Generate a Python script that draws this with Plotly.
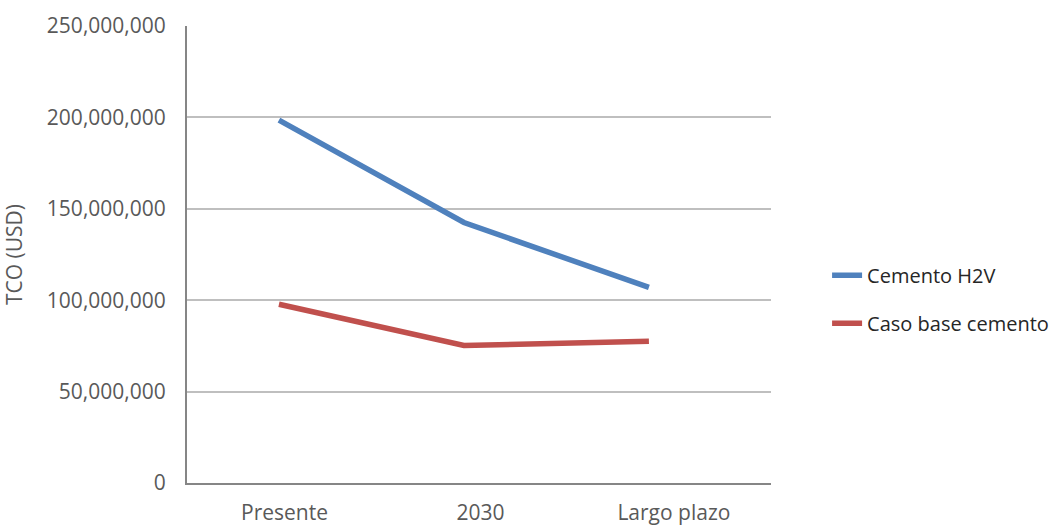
import plotly.graph_objects as go

categories = ["Presente", "2030", "Largo plazo"]
h2v_values = [198.5e6, 142.5e6, 107.0e6]
base_values = [97.8e6, 75.2e6, 77.6e6]
series_names = ["Cemento H2V", "Caso base cemento"]
y_ticks = [0, 50e6, 100e6, 150e6, 200e6, 250e6]

x_pos = list(range(len(categories)))
label_shift = [0.03, 0.09, 0.135]  # tick label offset relative to point positions
tick_pos = [p + s for p, s in zip(x_pos, label_shift)]

fig = go.Figure()
fig.add_trace(go.Scatter(x=x_pos, y=h2v_values, mode="lines", name=series_names[0],
                         line=dict(color="#4F81BD", width=5.5), legendgroup="a"))
fig.add_trace(go.Scatter(x=x_pos, y=base_values, mode="lines", name=series_names[1],
                         line=dict(color="#C0504D", width=5.5), legendgroup="b"))

font_family = "Open Sans"
fig.update_layout(
    width=1059, height=525,
    margin=dict(l=187, r=288, t=26, b=42, autoexpand=False),
    paper_bgcolor="white", plot_bgcolor="white",
    font=dict(family=font_family, size=21, color="#595959"),
    showlegend=True,
    legend=dict(xref="container", yref="container", x=0.781, y=0.43,
                xanchor="left", yanchor="middle",
                font=dict(family=font_family, size=20, color="#262626"),
                tracegroupgap=19, bgcolor="rgba(0,0,0,0)"),
    xaxis=dict(range=[-0.497, 2.66], tickvals=tick_pos, ticktext=categories,
               showgrid=False, zeroline=False, showline=True, linecolor="#868686",
               linewidth=2, ticks="", ticklabelstandoff=10, automargin=False,
               tickfont=dict(size=21, color="#595959")),
    yaxis=dict(range=[0, 250e6], tickvals=y_ticks, tickformat=",",
               showgrid=True, gridcolor="#BFBFBF", gridwidth=1.5,
               zeroline=False, showline=True, linecolor="#868686", linewidth=2,
               ticks="", ticklabelstandoff=15, automargin=False,
               title=dict(text="TCO (USD)", standoff=25,
                          font=dict(size=21, color="#595959")),
               tickfont=dict(size=21, color="#595959")),
)

fig.write_html("out.html")
